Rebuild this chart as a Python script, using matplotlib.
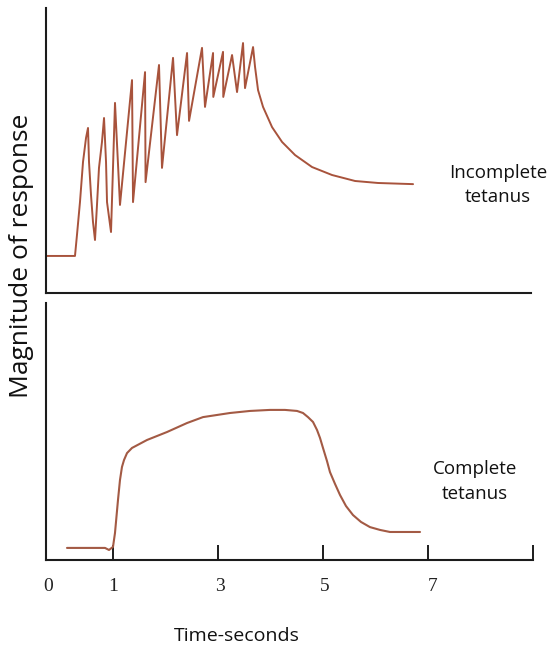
import matplotlib
matplotlib.use("Agg")
import matplotlib.pyplot as plt

# incomplete tetanus trace (time in s, magnitude in % of panel height)
incomplete_t = [
    -0.27, 0.276, 0.314, 0.371, 0.429, 0.486, 0.524, 0.543, 0.581, 0.619,
    0.657, 0.695, 0.733, 0.790, 0.829, 0.867, 0.886, 0.962, 1.038, 1.133,
    1.362, 1.381, 1.610, 1.620, 1.876, 1.933, 2.143, 2.219, 2.410, 2.448,
    2.695, 2.752, 2.905, 2.910, 3.095, 3.100, 3.267, 3.362, 3.476, 3.514,
    3.667, 3.705, 3.762, 3.857, 4.029, 4.219, 4.467, 4.790, 5.171, 5.610,
    6.048, 6.714,
]
incomplete_mag = [
    13.0, 13.0, 20.4, 31.9, 46.0, 54.4, 57.9, 46.0, 34.4, 24.9,
    18.6, 30.9, 43.9, 53.0, 61.4, 46.0, 31.9, 21.4, 66.7, 30.9,
    74.7, 31.9, 77.5, 38.9, 80.0, 43.9, 82.5, 55.4, 84.2, 60.4,
    86.0, 65.3, 84.2, 68.8, 84.6, 68.8, 83.5, 70.5, 87.7, 71.9,
    86.3, 79.3, 71.2, 65.3, 58.2, 53.0, 48.4, 44.2, 41.4, 39.3,
    38.6, 38.2,
]

# complete tetanus trace
complete_t = [
    0.124, 0.848, 0.924, 1.000, 1.038, 1.095, 1.133, 1.171, 1.210, 1.267,
    1.362, 1.648, 2.029, 2.410, 2.714, 3.229, 3.610, 3.990, 4.276, 4.505,
    4.619, 4.714, 4.810, 4.886, 4.943, 5.000, 5.076, 5.133, 5.229, 5.324,
    5.438, 5.571, 5.724, 5.895, 6.086, 6.276, 6.848,
]
complete_mag = [
    4.7, 4.7, 3.9, 5.1, 10.5, 23.3, 31.1, 36.2, 38.9, 41.6,
    43.6, 46.7, 49.8, 53.3, 55.6, 57.2, 58.0, 58.4, 58.4, 58.0,
    57.2, 55.6, 53.7, 50.6, 47.5, 43.6, 38.5, 34.2, 29.6, 25.3,
    21.0, 17.5, 14.8, 12.8, 11.7, 10.9, 10.9,
]

tick_pos = [1, 3, 5, 7, 9]
tick_label_pos = [-0.24, 1, 3.04, 5.04, 7.08]
tick_labels = ["0", "1", "3", "5", "7"]

W, H = 548, 649
fig = plt.figure(figsize=(W / 100, H / 100), dpi=100)

sans = ["Open Sans", "DejaVu Sans"]
trace_col = "#A8533C"
spine_col = "#1c1c1c"

ax1 = fig.add_axes([46 / W, (H - 293) / H, (531 - 46) / W, (293 - 8) / H])
ax2 = fig.add_axes([46 / W, (H - 560) / H, (533 - 46) / W, (560 - 303) / H])

ax1.plot(incomplete_t, incomplete_mag, color=trace_col, lw=1.4,
         solid_joinstyle="round", solid_capstyle="round")
ax2.plot(complete_t, complete_mag, color="#A35A44", lw=1.5,
         solid_joinstyle="round", solid_capstyle="round")

ax1.set_xlim(-0.276, 8.96)
ax2.set_xlim(-0.276, 9.0)
for ax in (ax1, ax2):
    ax.set_ylim(0, 100)
    for s in ("top", "right"):
        ax.spines[s].set_visible(False)
    for s in ("left", "bottom"):
        ax.spines[s].set_linewidth(1.5)
        ax.spines[s].set_color(spine_col)
    ax.set_yticks([])

ax1.set_xticks([])
ax2.set_xticks(tick_pos)
ax2.set_xticklabels([])
ax2.tick_params(axis="x", direction="in", length=10.5, width=1.4, color=spine_col)

for xp, lab in zip(tick_label_pos, tick_labels):
    ax2.text(xp, -10.5, lab, ha="center", va="center", fontsize=14,
             family="Liberation Serif", color="#222222")

ax2.text(3.35, -29.5, "Time-seconds", ha="center", va="center",
         fontsize=14, family=sans, color="#111111")

ax1.text(8.33, 38, "Incomplete\ntetanus", ha="center", va="center",
         fontsize=13.5, family=sans, color="#111111", linespacing=1.45)
ax2.text(7.9, 30.5, "Complete\ntetanus", ha="center", va="center",
         fontsize=13.5, family=sans, color="#111111", linespacing=1.45)

fig.text(22 / W, (H - 256) / H, "Magnitude of response", rotation=90,
         ha="center", va="center", fontsize=19, family=sans, color="#111111")

fig.savefig("out.png", dpi=100)
